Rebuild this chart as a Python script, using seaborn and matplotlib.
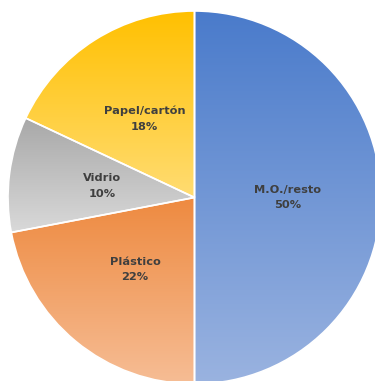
import numpy as np
import matplotlib
matplotlib.use("Agg")
import matplotlib.pyplot as plt
import seaborn as sns

# Waste composition
categories = ["M.O./resto", "Plástico", "Vidrio", "Papel/cartón"]
shares = [50, 22, 10, 18]

# Top and bottom colours of each slice's vertical gradient
top_colors = ["#4a7bcb", "#ee8a40", "#a8a8a8", "#ffc000"]
bottom_colors = ["#9ab3e0", "#f6bd95", "#d9d9d9", "#ffdc72"]

sns.set_theme(style="white")
plt.rcParams["font.family"] = ["DejaVu Sans"]

W, H = 375, 381
fig = plt.figure(figsize=(W / 100, H / 100), dpi=100)
ax = fig.add_axes([0, 0, 1, 1])

cx, cy, r = 194.5, H - 197.5, 186.5

labels = [f"{c}\n{v}%" for c, v in zip(categories, shares)]
wedges, texts = ax.pie(
    shares, labels=labels, startangle=90, counterclock=False,
    center=(cx, cy), radius=r, labeldistance=0.5, frame=True,
    wedgeprops=dict(edgecolor="white", linewidth=1.2),
    textprops=dict(color="#3f3f3f", fontsize=8.2, fontweight="bold",
                   ha="center", va="center", linespacing=1.7),
)
ax.set_xlim(0, W)
ax.set_ylim(0, H)
ax.set_aspect("equal")
ax.axis("off")

# fill each slice with a vertical gradient clipped to the wedge
for w, top, bot in zip(wedges, top_colors, bottom_colors):
    verts = w.get_patch_transform().transform(w.get_path().vertices)
    y0, y1 = verts[:, 1].min(), verts[:, 1].max()
    x0, x1 = verts[:, 0].min(), verts[:, 0].max()
    grad = sns.blend_palette([bot, top], n_colors=256)
    img = np.array(grad)[:, None, :]
    im = ax.imshow(img, extent=(x0, x1, y0, y1), origin="lower",
                   aspect="auto", zorder=1, interpolation="bilinear")
    im.set_clip_path(w)
    w.set_facecolor("none")
    w.set_zorder(2)

for t in texts:
    t.set_zorder(5)

ax.set_xlim(0, W)
ax.set_ylim(0, H)
fig.savefig("out.png", dpi=100, facecolor="white")
